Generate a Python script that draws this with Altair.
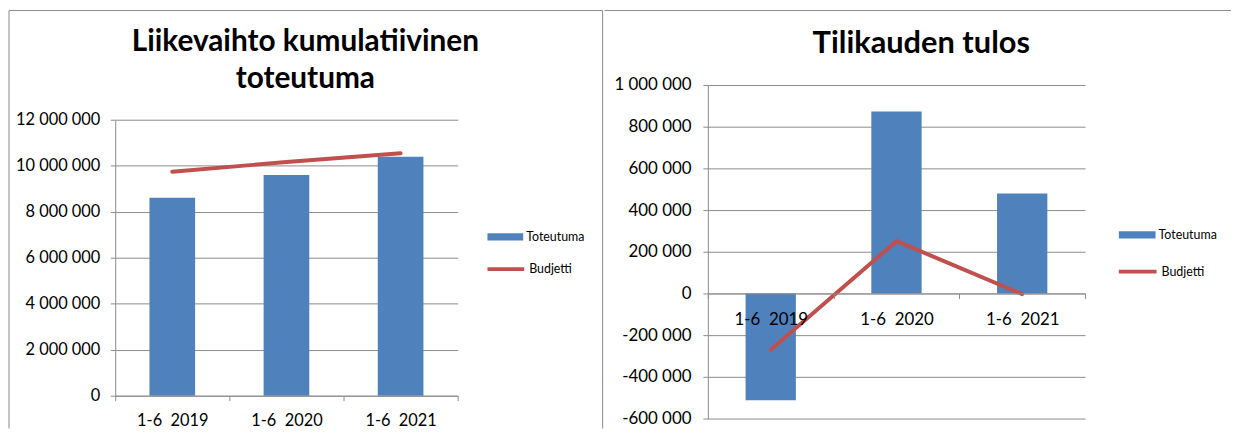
import altair as alt
import pandas as pd

# ---------------- data ----------------
categories = ["1-6 \u00a02019", "1-6 \u00a02020", "1-6 \u00a02021"]
series_names = ["Toteutuma", "Budjetti"]

liikevaihto_toteutuma = [8610000, 9600000, 10390000]
liikevaihto_budjetti = [9740000, 10160000, 10540000]
liikevaihto_ticks = [0, 2000000, 4000000, 6000000, 8000000, 10000000, 12000000]

tulos_toteutuma = [-512000, 873000, 480000]
tulos_budjetti = [-270000, 251000, -3000]
tulos_ticks = [-600000, -400000, -200000, 0, 200000, 400000, 600000, 800000, 1000000]

titles = ["Liikevaihto kumulatiivinen\ntoteutuma", "Tilikauden tulos"]

# ---------------- style ----------------
BLUE = "#4F81BD"
RED = "#C0504D"
GRID = "#8C8C8C"
BORDER = "#8A8A8A"
FONT = "Lato"
LABEL_EXPR = ("(datum.value < 0 ? '-' : '') + "
              "replace(replace(format(abs(datum.value), ','), ',', ' '), ',', ' ')")


def panel(title, actual, budget, ticks, width, height, y_range, fs, x_offset, x_pad, y_pad,
          title_size, title_xy, leg1, leg2, rules):
    bars = pd.DataFrame({"cat": categories, "value": actual, "series": series_names[0]})
    line = pd.DataFrame({"cat": categories, "value": budget, "series": series_names[1]})

    x = alt.X("cat:N", sort=categories, title=None,
              scale=alt.Scale(paddingInner=0, paddingOuter=0),
              axis=alt.Axis(labelFont=FONT, labelFontSize=fs, labelColor="black", labelAngle=0,
                            domainColor=GRID, tickColor=GRID, tickSize=5, tickBand="extent",
                            labelPadding=x_pad, offset=x_offset, grid=False, zindex=1))
    yscale = dict(domain=[ticks[0], ticks[-1]], nice=False, zero=False)
    if y_range is not None:
        yscale["range"] = y_range
    y = alt.Y("value:Q", title=None,
              scale=alt.Scale(**yscale),
              axis=alt.Axis(values=ticks, labelExpr=LABEL_EXPR, labelFont=FONT, labelFontSize=fs,
                            labelColor="black", domainColor=GRID, tickColor=GRID, tickSize=5,
                            gridColor=GRID, labelPadding=y_pad))

    bar_layer = alt.Chart(bars).mark_bar(width=alt.RelativeBandSize(0.4)).encode(
        x=x, y=y,
        color=alt.Color("series:N", scale=alt.Scale(domain=[series_names[0]], range=[BLUE]),
                        legend=alt.Legend(title=None, orient="none", legendX=leg1[0], legendY=leg1[1],
                                          symbolType="M-1,-0.2H1V0.2H-1Z", symbolSize=leg1[2] ** 2,
                                          symbolStrokeWidth=0, labelFont=FONT, labelFontSize=12.5,
                                          labelColor="black", labelOffset=3, padding=0)),
    )
    line_layer = alt.Chart(line).mark_line(strokeWidth=4, strokeCap="round").encode(
        x=x, y=y,
        stroke=alt.Stroke("series:N", scale=alt.Scale(domain=[series_names[1]], range=[RED]),
                          legend=alt.Legend(title=None, orient="none", legendX=leg2[0], legendY=leg2[1],
                                            symbolSize=leg2[2] ** 2, symbolStrokeWidth=4,
                                            labelFont=FONT, labelFontSize=12.5, labelColor="black",
                                            labelOffset=3, padding=0)),
    )

    one = pd.DataFrame({"t": [title]})
    title_layer = alt.Chart(one).mark_text(
        font=FONT, fontWeight="bold", fontSize=title_size, color="black",
        align="center", baseline="middle", lineBreak="\n", lineHeight=38,
    ).encode(x=alt.value(title_xy[0]), y=alt.value(title_xy[1]), text="t:N")

    layers = [bar_layer, line_layer, title_layer]
    for r in rules:
        enc = {k: alt.value(v) for k, v in r.items()}
        layers.append(alt.Chart(one).mark_rule(color=BORDER, strokeWidth=1).encode(**enc))

    return alt.layer(*layers).properties(width=width, height=height)


left = panel(
    titles[0], liikevaihto_toteutuma, liikevaihto_budjetti, liikevaihto_ticks,
    width=345, height=313, y_range=[313, 35], fs=16.5, x_offset=0, x_pad=12, y_pad=10.5,
    title_size=30, title_xy=(191.5, -43.5),
    leg1=(375, 135, 36), leg2=(373, 165, 37),
    rules=[
        {"x": -107, "y": -75, "y2": 346},
        {"x": -107, "x2": 491, "y": -75},
        {"x": 491, "y": -75, "y2": 346},
    ],
)

right = panel(
    titles[1], tulos_toteutuma, tulos_budjetti, tulos_ticks,
    width=380, height=336, y_range=None, fs=17, x_offset=-126, x_pad=13, y_pad=12,
    title_size=31, title_xy=(215, -41.5),
    leg1=(414, 132.5, 37), leg2=(412, 167, 38),
    rules=[
        {"x": -104, "x2": 527, "y": -75},
    ],
)

chart = alt.hconcat(left, right, spacing=0).resolve_scale(
    color="independent", stroke="independent"
).resolve_legend(
    color="independent", stroke="independent"
).properties(padding=0, background="white").configure_view(stroke=None)

chart.save("out.html", embed_options={"renderer": "svg", "actions": False})
